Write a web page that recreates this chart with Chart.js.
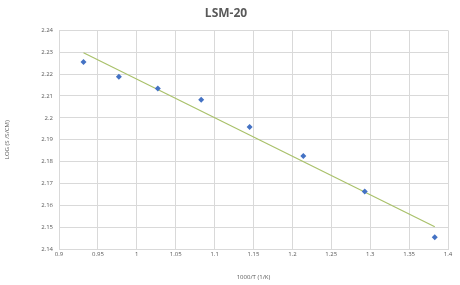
<!DOCTYPE html>
<html>
<head>
<meta charset="utf-8">
<script src="https://cdn.jsdelivr.net/npm/chart.js@4/dist/chart.umd.min.js"></script>
<style>
  html, body { margin: 0; padding: 0; background: #fff; }
  canvas { display: block; }
</style>
</head>
<body>
<canvas id="lsmChart" width="460" height="285"></canvas>
<script>
// dữ liệu đo
const invTemp = [0.9315, 0.977, 1.027, 1.0828, 1.145, 1.214, 1.293, 1.383];
const logSigma = [2.2255, 2.2188, 2.2134, 2.2083, 2.1958, 2.1825, 2.1663, 2.1454];

// đường xu hướng (hai đầu)
const trendX = [0.9315, 1.383];
const trendY = [2.2298, 2.1502];

const xTicks = [0.9, 0.95, 1, 1.05, 1.1, 1.15, 1.2, 1.25, 1.3, 1.35, 1.4];
const yTicks = [2.14, 2.15, 2.16, 2.17, 2.18, 2.19, 2.2, 2.21, 2.22, 2.23, 2.24];

const fontFam = "'Open Sans', 'Liberation Sans', sans-serif";
const gridColor = '#d9d9d9';
const textColor = '#595959';

const ctx = document.getElementById('lsmChart').getContext('2d');

new Chart(ctx, {
  type: 'scatter',
  data: {
    datasets: [
      {
        label: 'LSM-20',
        data: invTemp.map((x, i) => ({ x: x, y: logSigma[i] })),
        pointStyle: 'rectRot',
        pointRadius: 3,
        backgroundColor: '#4472c4',
        borderColor: '#4472c4',
        borderWidth: 0
      },
      {
        label: 'trend',
        data: trendX.map((x, i) => ({ x: x, y: trendY[i] })),
        showLine: true,
        pointRadius: 0,
        borderColor: '#a9c16a',
        borderWidth: 1.2,
        fill: false
      }
    ]
  },
  options: {
    responsive: false,
    animation: false,
    layout: { padding: { left: 4, right: 12, top: 0, bottom: 4 } },
    plugins: {
      legend: { display: false },
      tooltip: { enabled: false },
      title: {
        display: true,
        text: 'LSM-20',
        color: textColor,
        font: { family: fontFam, size: 12, weight: 'bold' },
        padding: { top: 6, bottom: 10 }
      }
    },
    scales: {
      x: {
        type: 'linear',
        min: 0.9,
        max: 1.4,
        afterBuildTicks: axis => { axis.ticks = xTicks.map(v => ({ value: v })); },
        afterFit: axis => { axis.height = 32; },
        ticks: {
          color: textColor,
          font: { family: fontFam, size: 6 },
          maxRotation: 0,
          padding: 2,
          callback: v => String(Number(v.toFixed(2)))
        },
        grid: { color: gridColor, lineWidth: 1, drawTicks: false },
        border: { color: gridColor },
        title: {
          display: true,
          text: '1000/T (1/K)',
          color: textColor,
          font: { family: fontFam, size: 6 },
          padding: { top: 8, bottom: 0 }
        }
      },
      y: {
        type: 'linear',
        min: 2.14,
        max: 2.24,
        afterBuildTicks: axis => { axis.ticks = yTicks.map(v => ({ value: v })); },
        afterFit: axis => { axis.width = 55; },
        ticks: {
          color: textColor,
          font: { family: fontFam, size: 6 },
          padding: 6,
          callback: v => String(Number(v.toFixed(2)))
        },
        grid: { color: gridColor, lineWidth: 1, drawTicks: false },
        border: { color: gridColor },
        title: {
          display: true,
          text: 'LOG (S /S/CM)',
          color: textColor,
          font: { family: fontFam, size: 6 },
          padding: { top: 0, bottom: 14 }
        }
      }
    }
  }
});
</script>
</body>
</html>
